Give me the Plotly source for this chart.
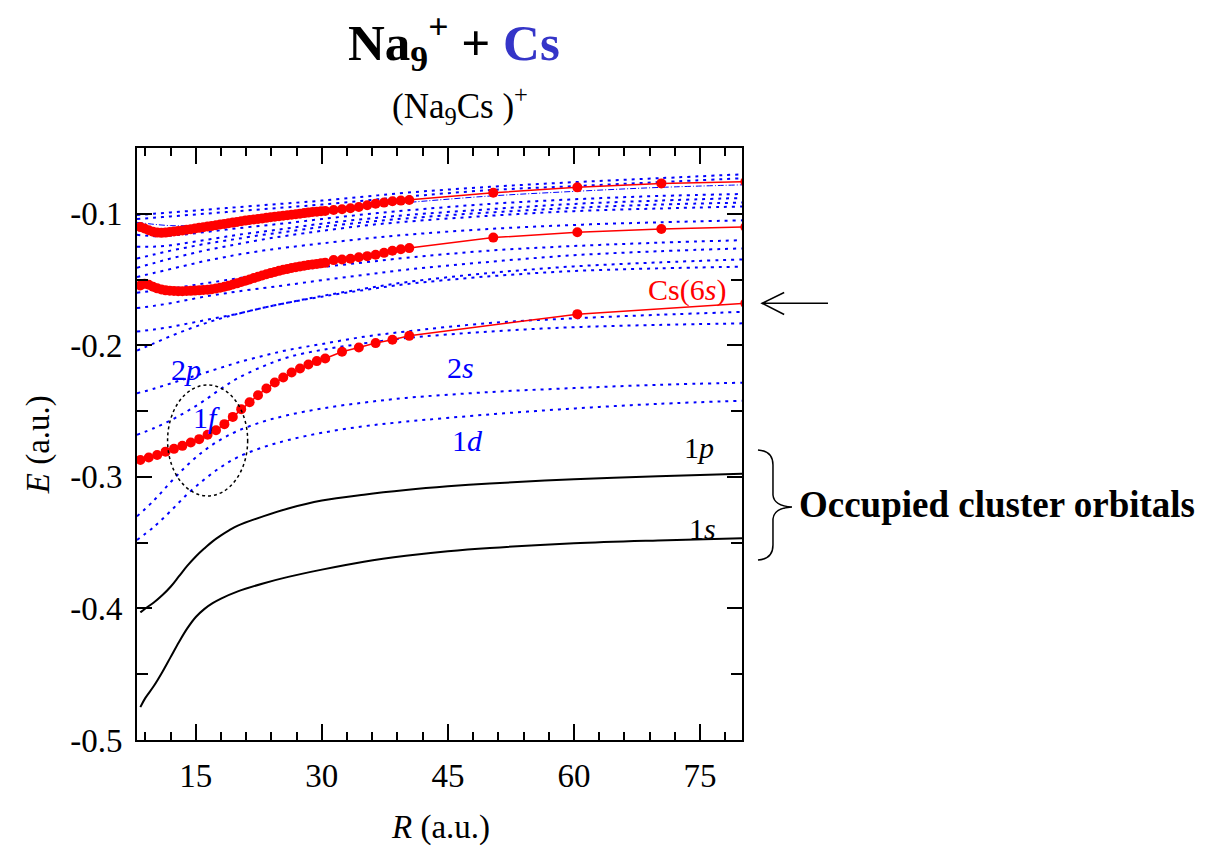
import plotly.graph_objects as go

# ---------------- data ----------------
R_blue = [8, 10, 12, 14, 16, 18, 20, 23, 26, 30, 35, 40, 50, 60, 70, 80]
blue_b1 = [-0.101, -0.100, -0.099, -0.098, -0.097, -0.096, -0.095, -0.0935, -0.092, -0.090, -0.087, -0.084, -0.0795, -0.076, -0.073, -0.070]
blue_b2 = [-0.104, -0.103, -0.102, -0.101, -0.100, -0.099, -0.098, -0.0965, -0.095, -0.093, -0.090, -0.087, -0.082, -0.079, -0.076, -0.073]
blue_dd = [-0.1065, -0.108, -0.109, -0.109, -0.108, -0.107, -0.1055, -0.103, -0.1005, -0.097, -0.094, -0.0915, -0.0865, -0.083, -0.080, -0.078]
blue_b4 = [-0.116, -0.117, -0.1165, -0.1155, -0.114, -0.1125, -0.111, -0.109, -0.107, -0.104, -0.1005, -0.0975, -0.0925, -0.089, -0.0865, -0.085]
blue_b5 = [-0.125, -0.125, -0.124, -0.122, -0.120, -0.118, -0.116, -0.1135, -0.111, -0.1075, -0.104, -0.101, -0.0965, -0.0925, -0.090, -0.088]
blue_b6 = [-0.134, -0.131, -0.128, -0.1255, -0.123, -0.121, -0.119, -0.116, -0.1135, -0.110, -0.1065, -0.1035, -0.099, -0.0955, -0.093, -0.0915]
blue_b7 = [-0.141, -0.1375, -0.134, -0.131, -0.128, -0.1255, -0.123, -0.1195, -0.1165, -0.113, -0.109, -0.106, -0.1015, -0.098, -0.096, -0.0945]
blue_b8 = [-0.148, -0.145, -0.142, -0.139, -0.136, -0.1335, -0.131, -0.128, -0.1255, -0.1225, -0.119, -0.116, -0.1115, -0.1085, -0.1065, -0.105]
blue_c1 = [-0.160, -0.1585, -0.157, -0.155, -0.153, -0.151, -0.149, -0.146, -0.1435, -0.1405, -0.137, -0.1335, -0.128, -0.1245, -0.122, -0.1201]
blue_c2 = [-0.1717, -0.170, -0.168, -0.1655, -0.163, -0.161, -0.159, -0.1565, -0.154, -0.1505, -0.1465, -0.1425, -0.1365, -0.1315, -0.1285, -0.1263]
blue_c3 = [-0.1895, -0.188, -0.186, -0.1835, -0.181, -0.1785, -0.176, -0.1715, -0.1675, -0.1625, -0.157, -0.152, -0.145, -0.140, -0.137, -0.1347]
blue_c4 = [-0.204, -0.1985, -0.193, -0.188, -0.1835, -0.1795, -0.176, -0.1715, -0.1675, -0.163, -0.158, -0.1535, -0.1475, -0.1435, -0.1415, -0.1402]
blue_2p = [-0.2364, -0.2330, -0.2290, -0.2250, -0.2210, -0.2170, -0.2130, -0.2080, -0.2035, -0.1990, -0.1935, -0.1895, -0.1830, -0.1795, -0.1768, -0.1746]
blue_1f = [-0.268, -0.263, -0.257, -0.250, -0.242, -0.233, -0.225, -0.216, -0.209, -0.2035, -0.1985, -0.1945, -0.1895, -0.1862, -0.1845, -0.1833]
blue_2s = [-0.330, -0.318, -0.304, -0.291, -0.280, -0.2715, -0.2650, -0.2580, -0.2530, -0.2480, -0.2435, -0.2400, -0.2355, -0.2325, -0.2300, -0.2284]
blue_1d = [-0.348, -0.338, -0.326, -0.313, -0.302, -0.2925, -0.2850, -0.2775, -0.2720, -0.2665, -0.2615, -0.2580, -0.2525, -0.2480, -0.2445, -0.2421]

R_dense = [8.4, 8.9, 9.4, 9.9, 10.4, 10.9, 11.4, 11.9, 12.4, 12.9, 13.4, 13.9, 14.4, 14.9, 15.4,
           15.9, 16.4, 16.9, 17.4, 17.9, 18.4, 18.9, 19.4, 19.9, 20.4, 20.9, 21.4, 21.9, 22.4, 22.9,
           23.4, 23.9, 24.4, 24.9, 25.4, 25.9, 26.4, 26.9, 27.4, 27.9, 28.4, 28.9, 29.4, 29.9, 30.4,
           31.4, 32.4, 33.4, 34.4, 35.4, 36.4, 37.4, 38.4, 39.4, 40.4, 50.4, 60.4, 70.4, 80.4]
red_upper = [-0.1100, -0.1112, -0.1125, -0.1136, -0.1143, -0.1145, -0.1143, -0.1139, -0.1135, -0.1131,
             -0.1127, -0.1122, -0.1117, -0.1112, -0.1107, -0.1102, -0.1097, -0.1092, -0.1087, -0.1082,
             -0.1077, -0.1072, -0.1067, -0.1062, -0.1057, -0.1052, -0.1047, -0.1043, -0.1039, -0.1035,
             -0.1031, -0.1027, -0.1023, -0.1019, -0.1015, -0.1011, -0.1007, -0.1003, -0.0999, -0.0995,
             -0.0991, -0.0987, -0.0984, -0.0981, -0.0978,
             -0.0971, -0.0966, -0.0958, -0.0948, -0.0935, -0.0923, -0.0915, -0.0905, -0.0900, -0.0895,
             -0.0840, -0.0799, -0.0769, -0.0756]
red_middle = [-0.1545, -0.1532, -0.1540, -0.1555, -0.1567, -0.1576, -0.1582, -0.1585, -0.1587, -0.1588,
              -0.1588, -0.1587, -0.1586, -0.1584, -0.1582, -0.1580, -0.1577, -0.1573, -0.1568, -0.1562,
              -0.1555, -0.1547, -0.1538, -0.1529, -0.1519, -0.1509, -0.1499, -0.1489, -0.1479, -0.1469,
              -0.1460, -0.1451, -0.1442, -0.1434, -0.1426, -0.1419, -0.1412, -0.1406, -0.1400, -0.1395,
              -0.1390, -0.1385, -0.1381, -0.1377, -0.1373,
              -0.1352, -0.1347, -0.1342, -0.1331, -0.1322, -0.1312, -0.1297, -0.1281, -0.1269, -0.1261,
              -0.1181, -0.1141, -0.1116, -0.1100]
R_cs6s = [8.4, 9.4, 10.4, 11.4, 12.4, 13.4, 14.4, 15.4, 16.4, 17.4, 18.4, 19.4, 20.4, 21.4, 22.4,
          23.4, 24.4, 25.4, 26.4, 27.4, 28.4, 29.4, 30.4, 32.4, 34.4, 36.4, 38.4, 40.4, 60.4, 80.4]
red_cs6s = [-0.2871, -0.2853, -0.2833, -0.2808, -0.2787, -0.2764, -0.2739, -0.2713, -0.2680, -0.2645,
            -0.2599, -0.2544, -0.2485, -0.2432, -0.2379, -0.2328, -0.2283, -0.2245, -0.2207, -0.2176,
            -0.2146, -0.2120, -0.2100, -0.2049, -0.2017, -0.1983, -0.1958, -0.1928, -0.1763, -0.1681]

R_1p = [8.4, 9, 10, 11, 12, 13, 14, 15, 16, 17, 18, 19, 20, 23, 26, 30, 35, 40, 45, 50, 60, 70, 80]
E_1p = [-0.403, -0.400, -0.3955, -0.390, -0.3835, -0.3755, -0.3675, -0.3605, -0.3545, -0.349, -0.3445, -0.3405,
        -0.337, -0.330, -0.324, -0.318, -0.3135, -0.3100, -0.3072, -0.3050, -0.3018, -0.2995, -0.2977]
R_1s = [8.4, 9, 10, 11, 12, 13, 14, 15, 16, 17, 18, 20, 23, 26, 30, 35, 40, 45, 50, 60, 70, 80]
E_1s = [-0.475, -0.468, -0.459, -0.4485, -0.437, -0.4255, -0.415, -0.4065, -0.4005, -0.396, -0.3925, -0.387,
        -0.381, -0.376, -0.3705, -0.3645, -0.3600, -0.3565, -0.354, -0.3505, -0.3483, -0.3466]

y_tickvals = [-0.5, -0.4, -0.3, -0.2, -0.1]
y_ticktext = ["-0.5", "-0.4", "-0.3", "-0.2", "-0.1"]
y_minor = [-0.45, -0.35, -0.25, -0.15, -0.05]
x_tickvals = [15, 30, 45, 60, 75]
x_ticktext = ["15", "30", "45", "60", "75"]
x_minor = [9, 12, 18, 21, 24, 27, 33, 36, 39, 42, 48, 51, 54, 57, 63, 66, 69, 72, 78]

FONT = "Liberation Serif, Times New Roman, serif"
BLUE = "#0000ff"

fig = go.Figure()

blue_lines = [blue_b1, blue_b2, blue_b4, blue_b5, blue_b6, blue_b7, blue_b8, blue_c1, blue_c2,
              blue_c3, blue_c4, blue_2p, blue_1f, blue_2s, blue_1d]
for ys in blue_lines:
    fig.add_trace(go.Scatter(x=R_blue, y=ys, mode="lines", line_shape="spline",
                             line=dict(color=BLUE, width=2, dash="3px,5px"),
                             showlegend=False, hoverinfo="skip"))
fig.add_trace(go.Scatter(x=R_blue, y=blue_dd, mode="lines", line_shape="spline",
                         line=dict(color=BLUE, width=1, dash="6px,2px,1px,2px"),
                         showlegend=False, hoverinfo="skip"))

for xs, ys in [(R_dense, red_upper), (R_dense, red_middle), (R_cs6s, red_cs6s)]:
    fig.add_trace(go.Scatter(x=xs, y=ys, mode="lines+markers",
                             line=dict(color="#ff0000", width=1.5),
                             marker=dict(color="#ff0000", size=10),
                             showlegend=False, cliponaxis=True))

for xs, ys in [(R_1p, E_1p), (R_1s, E_1s)]:
    fig.add_trace(go.Scatter(x=xs, y=ys, mode="lines", line_shape="spline",
                             line=dict(color="black", width=2), showlegend=False))

# dotted ellipse around the 1f crossing
fig.add_shape(type="circle", xref="x", yref="y", x0=11.64, x1=21.17, y0=-0.3145, y1=-0.2301,
              line=dict(color="black", width=1.5, dash="dot"))

# brace (paper coords)
brace = ("M 1.0264 0.4899 Q 1.0512 0.4882 1.0512 0.4645 L 1.0512 0.4139 "
         "Q 1.0529 0.3953 1.0826 0.3936 Q 1.0529 0.3919 1.0512 0.3733 "
         "L 1.0512 0.3294 Q 1.0512 0.3057 1.0264 0.3041")
fig.add_shape(type="path", xref="paper", yref="paper", path=brace,
              line=dict(color="black", width=1.5))
# arrow pointing to Cs(6s)
arrow = "M 1.1421 0.7377 L 1.0331 0.7377 M 1.0697 0.7559 L 1.0331 0.7377 L 1.0697 0.7187"
fig.add_shape(type="path", xref="paper", yref="paper", path=arrow,
              line=dict(color="black", width=1.5))

ann = []
def txt(x, y, s, size=30, color="black", xref="x", yref="y", **kw):
    d = dict(x=x, y=y, text=s, xref=xref, yref=yref, showarrow=False,
             xanchor="center", yanchor="middle",
             font=dict(family=FONT, size=size, color=color))
    d.update(kw)
    ann.append(d)

txt(0.524, 1.178, "<b>Na<sub>9</sub><sup>+</sup> + <span style='color:#3535c8'>Cs</span></b>",
    size=51, xref="paper", yref="paper")
txt(0.534, 1.0726, "(Na<sub>9</sub>Cs )<sup>+</sup>", size=35, xref="paper", yref="paper")
txt(-0.1636, 0.498, "<i>E</i> (a.u.)", size=33, xref="paper", yref="paper", textangle=-90)
txt(0.501, -0.147, "<i>R</i> (a.u.)", size=33, xref="paper", yref="paper")
txt(1.0909, 0.397, "<b>Occupied cluster orbitals</b>", size=37, xref="paper", yref="paper",
    xanchor="left")

txt(13.87, -0.218, "2<i>p</i>", color=BLUE)
txt(16.25, -0.2545, "1<i>f</i>", color=BLUE)
txt(46.5, -0.2172, "2<i>s</i>", color=BLUE)
txt(47.3, -0.272, "1<i>d</i>", color=BLUE)
txt(74.9, -0.2773, "1<i>p</i>")
txt(75.3, -0.3396, "1<i>s</i>")
txt(73.5, -0.158, "Cs(6<i>s</i>)", color="#ff0000")

fig.update_layout(
    width=1200, height=843,
    margin=dict(l=129, r=466, t=140, b=111),
    paper_bgcolor="white", plot_bgcolor="white",
    font=dict(family=FONT, size=33, color="black"),
    annotations=ann,
    xaxis=dict(range=[8, 80], tickmode="array", tickvals=x_tickvals, ticktext=x_ticktext,
               ticks="inside", ticklen=16, tickwidth=2, tickcolor="black",
               minor=dict(tickmode="array", tickvals=x_minor, ticks="inside", ticklen=8,
                          tickwidth=2, tickcolor="black"),
               showline=True, linecolor="black", linewidth=2, mirror="ticks",
               showgrid=False, zeroline=False, ticklabelstandoff=5,
               tickfont=dict(family=FONT, size=33)),
    yaxis=dict(range=[-0.5, -0.05], tickmode="array", tickvals=y_tickvals, ticktext=y_ticktext,
               ticks="inside", ticklen=15, tickwidth=2, tickcolor="black",
               minor=dict(tickmode="array", tickvals=y_minor, ticks="inside", ticklen=11,
                          tickwidth=2, tickcolor="black"),
               showline=True, linecolor="black", linewidth=2, mirror="ticks",
               showgrid=False, zeroline=False, ticklabelstandoff=6,
               tickfont=dict(family=FONT, size=33)),
)

fig.write_html("out.html")
